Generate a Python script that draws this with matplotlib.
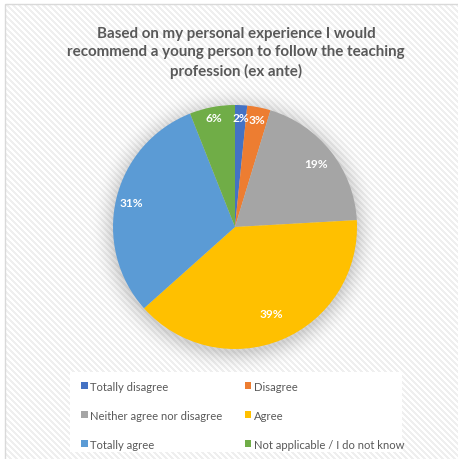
import numpy as np
import matplotlib
matplotlib.use("Agg")
import matplotlib.pyplot as plt
from matplotlib.patches import Rectangle, Patch

categories = ["Totally disagree", "Disagree", "Neither agree nor disagree",
              "Agree", "Totally agree", "Not applicable / I do not know"]
values = [1.6, 3.1, 19.4, 39.3, 30.6, 6.0]
colors = ["#4472C4", "#ED7D31", "#A5A5A5", "#FFC000", "#5B9BD5", "#70AD47"]
label_dist = [0.9, 0.9, 0.84, 0.77, 0.87, 0.91]
title = "Based on my personal experience I would\nrecommend a young person to follow the teaching\nprofession (ex ante)"

W, H = 458, 460
fig = plt.figure(figsize=(W / 100, H / 100), dpi=100)
fig.patch.set_facecolor("white")

# background: diagonal stripes + soft shadow around the pie
bg = fig.add_axes([0, 0, 1, 1])
bg.set_xlim(0, W); bg.set_ylim(H, 0); bg.axis("off")
yy, xx = np.mgrid[0:H, 0:W] + 0.5
stripe = (((xx - yy) % 6) < 3).astype(float)
base = 1.0 - 0.06 * stripe
cx, cy, R = 235, 231, 122
d = np.sqrt((xx - cx) ** 2 + (yy - cy) ** 2)
glow = np.clip(1 - (d - R) / 24, 0, 1)
shade = 0.16 * glow ** 2
val = base * (1 - shade)
inside = (xx >= 5) & (yy >= 5)
val = np.where(inside, val, 1.0)
img = np.dstack([val, val, val])
bg.imshow(img, extent=(0, W, H, 0), zorder=0, interpolation="nearest")
bg.add_patch(Rectangle((5, 5), W, H, facecolor="none", edgecolor="#d9d9d9",
                       lw=1.0, zorder=0.5))
bg.add_patch(Rectangle((70, 373), 332, 80, facecolor="white", edgecolor="none", zorder=2))

# pie
pcx, pcy = 235, 228
ax = fig.add_axes([(pcx - R) / W, 1 - (pcy + R) / H, 2 * R / W, 2 * R / H])
wedges, _ = ax.pie(values, colors=colors, startangle=90, counterclock=False,
                   radius=1.0, wedgeprops=dict(linewidth=0))
ax.set_xlim(-1, 1); ax.set_ylim(-1, 1); ax.set_aspect("auto")
for w, v, r in zip(wedges, values, label_dist):
    ang = np.deg2rad((w.theta1 + w.theta2) / 2)
    ax.text(r * np.cos(ang), r * np.sin(ang), f"{v:.0f}%", ha="center", va="center",
            color="white", fontsize=8.6, fontweight="bold", family="Lato")

fig.text(236 / W, 1 - 53 / H, title, ha="center", va="center", fontsize=10.9,
         fontweight="bold", color="#595959", family="Lato", linespacing=1.4)

handles = [Patch(facecolor=c, edgecolor="none") for c in colors]
order = [0, 2, 4, 1, 3, 5]
leg = fig.legend([handles[i] for i in order], [categories[i] for i in order],
                 ncol=2, loc="upper left", bbox_to_anchor=(73 / W, 1 - 374 / H),
                 frameon=False, prop=dict(family="Lato", size=8.1),
                 handlelength=0.6, handleheight=0.6, handletextpad=0.2,
                 columnspacing=2.0, labelspacing=1.6, borderpad=0.2)
for t in leg.get_texts():
    t.set_color("#595959")

fig.savefig("out.png", dpi=100)
